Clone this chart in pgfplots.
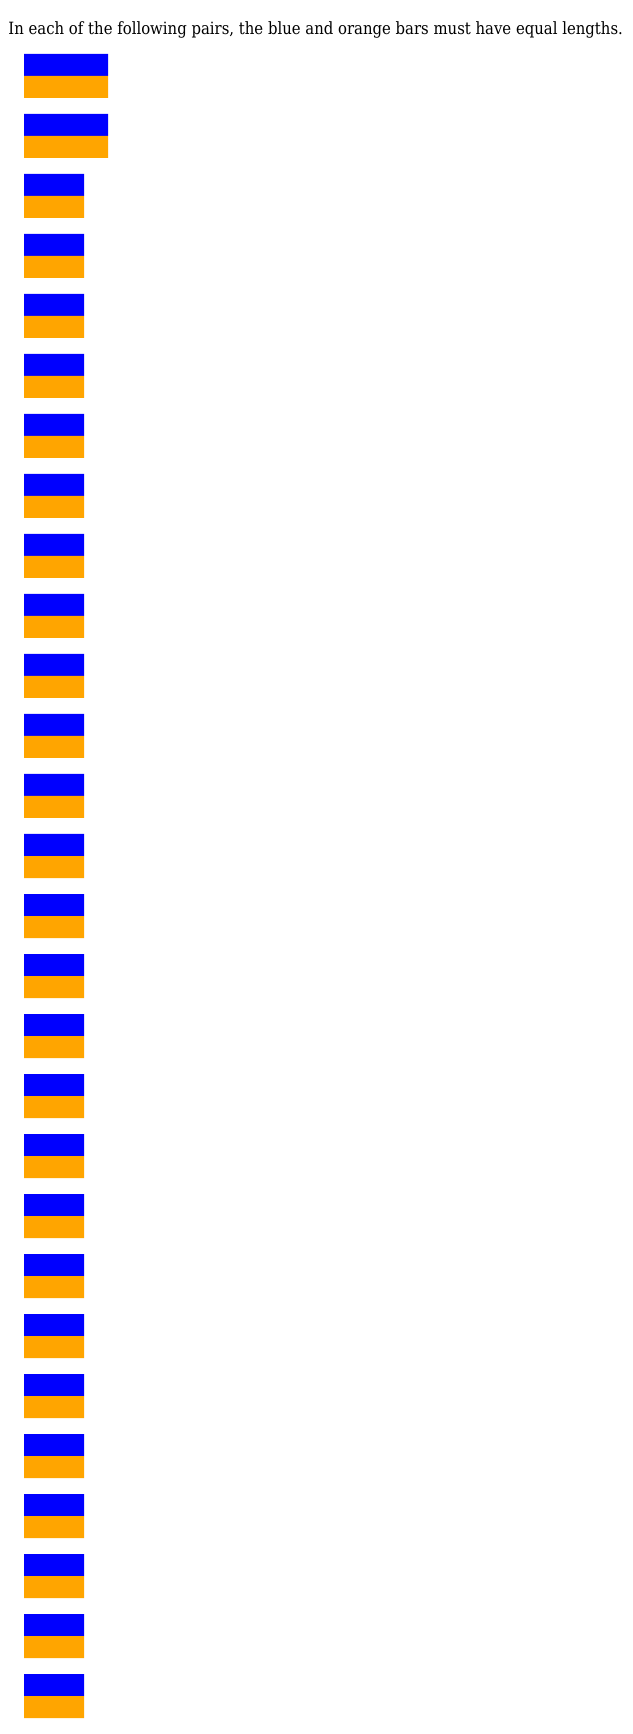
\documentclass[border=0pt]{standalone}
\usepackage{pgfplots}
\pgfplotsset{compat=1.18}
\usepackage{fontspec}
\setmainfont{DejaVu Serif}
\definecolor{barblue}{RGB}{0,0,255}
\definecolor{barorange}{RGB}{255,165,0}
\newsavebox\tbox
\begin{document}
\sbox\tbox{\fontsize{16.9}{20}\selectfont In each of the following pairs, the blue and orange bars must have equal lengths.}%
\pgfmathsetmacro\sx{614.4/\wd\tbox}%
\begin{tikzpicture}[x=1pt,y=1pt]
\useasboundingbox (0,0) rectangle (632,1734);
\fill[white] (0,0) rectangle (632,1734);
\begin{axis}[at={(0,0)}, anchor=south west, width=632pt, height=1734pt,
  scale only axis, hide axis, clip=false,
  xmin=-0.4, xmax=10.133333, ymin=-1.083333, ymax=27.816667, y dir=reverse,
  xbar, bar width=0.366667, bar shift=0pt]
\addplot[fill=barblue, draw=none] coordinates {
(1.4,0) (1.4,1) (1,2) (1,3) (1,4) (1,5) (1,6) (1,7) (1,8) (1,9)
(1,10) (1,11) (1,12) (1,13) (1,14) (1,15) (1,16) (1,17) (1,18) (1,19)
(1,20) (1,21) (1,22) (1,23) (1,24) (1,25) (1,26) (1,27)};
\addplot[fill=barorange, draw=none] coordinates {
(1.4,0.366667) (1.4,1.366667) (1,2.366667) (1,3.366667) (1,4.366667) (1,5.366667) (1,6.366667) (1,7.366667) (1,8.366667) (1,9.366667)
(1,10.366667) (1,11.366667) (1,12.366667) (1,13.366667) (1,14.366667) (1,15.366667) (1,16.366667) (1,17.366667) (1,18.366667) (1,19.366667)
(1,20.366667) (1,21.366667) (1,22.366667) (1,23.366667) (1,24.366667) (1,25.366667) (1,26.366667) (1,27.366667)};
\end{axis}
\node[anchor=base west, inner sep=0pt] at (8.3,1699) {\scalebox{\sx}[1]{\usebox\tbox}};
\end{tikzpicture}
\end{document}
